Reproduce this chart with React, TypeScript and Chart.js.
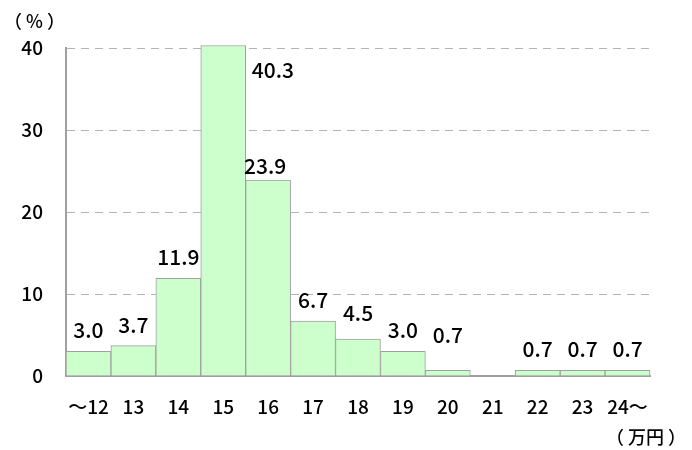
import React, { useEffect, useRef } from "react";
import { Chart, registerables } from "chart.js";

Chart.register(...registerables);

const categories = ["～12", "13", "14", "15", "16", "17", "18", "19", "20", "21", "22", "23", "24～"];
const values = [3.0, 3.7, 11.9, 40.3, 23.9, 6.7, 4.5, 3.0, 0.7, 0, 0.7, 0.7, 0.7];
const valueLabels = ["3.0", "3.7", "11.9", "40.3", "23.9", "6.7", "4.5", "3.0", "0.7", "", "0.7", "0.7", "0.7"];
const yTicks = [0, 10, 20, 30, 40];
const yUnit = "%";
const xUnit = "万円";

const FONT = "'Noto Sans CJK JP', sans-serif";

function drawParenText(ctx: any, inner: string, left: number, y: number) {
  // draws （inner） starting at left
  const gap = 4;
  let x = left;
  ctx.textAlign = "left";
  ctx.fillText("（", x, y);
  x += ctx.measureText("（").width + gap;
  ctx.fillText(inner, x, y);
  x += ctx.measureText(inner).width + gap;
  ctx.fillText("）", x, y);
  return x + ctx.measureText("）").width;
}

const labelPlugin = {
  id: "valueLabels",
  afterDatasetsDraw(chart: any) {
    const { ctx } = chart;
    const meta = chart.getDatasetMeta(0);
    ctx.save();
    ctx.font = `500 21px ${FONT}`;
    ctx.fillStyle = "#000";
    ctx.textBaseline = "alphabetic";
    meta.data.forEach((bar: any, i: number) => {
      const txt = valueLabels[i];
      if (!txt) return;
      let x = bar.x;
      let y = bar.y - 13;
      ctx.textAlign = "center";
      if (i === 3) {
        x = bar.x + bar.width / 2 + 6;
        ctx.textAlign = "left";
        y = bar.y + 32;
      } else if (i === 4) {
        y = bar.y - 6;
        x = bar.x - 3;
      } else if (i === 8) {
        y = bar.y - 27;
      } else if (i === 6) {
        y = bar.y - 18;
      }
      ctx.fillText(txt, x, y);
    });
    ctx.restore();
  },
  afterDraw(chart: any) {
    const { ctx } = chart;
    ctx.save();
    ctx.font = `500 18px ${FONT}`;
    ctx.fillStyle = "#000";
    ctx.textBaseline = "middle";
    drawParenText(ctx, yUnit, 4, 21);
    // right-aligned unit: measure total width first
    const gap = 4;
    const w =
      ctx.measureText("（").width + gap + ctx.measureText(xUnit).width + gap + ctx.measureText("）").width;
    drawParenText(ctx, xUnit, 686 - w, 437);
    ctx.restore();
  },
};

export default function App() {
  const ref = useRef<HTMLCanvasElement | null>(null);
  useEffect(() => {
    document.body.style.margin = "0";
    const canvas = ref.current!;
    const chart = new Chart(canvas, {
      type: "bar",
      data: {
        labels: categories,
        datasets: [
          {
            data: values,
            backgroundColor: "#ccffcc",
            borderColor: "#a0a0a0",
            borderWidth: 1,
            barPercentage: 1,
            categoryPercentage: 1,
            clip: false as any,
          },
        ],
      },
      options: {
        responsive: false,
        animation: false,
        devicePixelRatio: 1,
        layout: { padding: { left: 0, right: 42, top: 48, bottom: 0 } },
        plugins: { legend: { display: false }, tooltip: { enabled: false } },
        scales: {
          x: {
            grid: { display: false, drawTicks: false },
            border: { display: true, color: "#a0a0a0", width: 2 },
            ticks: {
              color: "#000",
              font: { family: FONT, size: 19, weight: "500" },
              padding: 19,
              maxRotation: 0,
              autoSkip: false,
            },
            afterFit: (s: any) => {
              s.height = 74;
            },
          },
          y: {
            min: 0,
            max: 40,
            afterBuildTicks: (s: any) => {
              s.ticks = yTicks.map((v) => ({ value: v }));
            },
            grid: {
              drawTicks: false,
              color: (c: any) => (c.tick && c.tick.value === 0 ? "rgba(0,0,0,0)" : "#b4b4b4"),
              lineWidth: 1,
            },
            border: { display: true, color: "#a0a0a0", width: 2, dash: [8, 6] },
            ticks: {
              color: "#000",
              font: { family: FONT, size: 19, weight: "500" },
              padding: 23,
            },
            afterFit: (s: any) => {
              s.width = 66;
            },
          },
        },
      },
      plugins: [labelPlugin],
    });
    return () => chart.destroy();
  }, []);
  return (
    <div style={{ width: 692, height: 450 }}>
      <canvas ref={ref} width={692} height={450} style={{ display: "block" }} />
    </div>
  );
}
